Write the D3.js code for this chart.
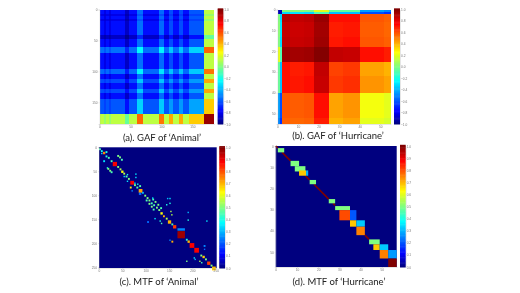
<!DOCTYPE html>
<html>
<head>
<meta charset="utf-8">
<script src="https://cdn.jsdelivr.net/npm/d3@7"></script>
<style>
  html, body { margin: 0; padding: 0; background: #fff; }
  svg { display: block; }
</style>
</head>
<body>
<div id="viz"></div>
<script>
// band edges along the series index, and the value of each band pair
var animalEdges = [0,8,10,16,18,42,48,60,71,96,104,113,118,129,135,144,169,185];
var animalGaf = [
  [-.76,-.82,-.76,-.82,-.76,-.88,-.76,-.55,-.76,-.56,-.76,-.62,-.76,-.62,-.76,-.6,.12],
  [-.82,-.85,-.82,-.85,-.82,-.92,-.82,-.6,-.82,-.62,-.82,-.66,-.82,-.66,-.82,-.65,.05],
  [-.76,-.82,-.76,-.82,-.76,-.88,-.76,-.55,-.76,-.56,-.76,-.62,-.76,-.62,-.76,-.6,.12],
  [-.82,-.85,-.82,-.85,-.82,-.92,-.82,-.6,-.82,-.62,-.82,-.66,-.82,-.66,-.82,-.65,.05],
  [-.76,-.82,-.76,-.82,-.76,-.88,-.76,-.55,-.76,-.56,-.76,-.62,-.76,-.62,-.76,-.6,.12],
  [-.88,-.92,-.88,-.92,-.88,-.97,-.88,-.7,-.88,-.72,-.88,-.76,-.88,-.76,-.88,-.76,-.05],
  [-.76,-.82,-.76,-.82,-.76,-.88,-.76,-.55,-.76,-.56,-.76,-.62,-.76,-.62,-.76,-.6,.12],
  [-.55,-.6,-.55,-.6,-.55,-.7,-.55,-.25,-.55,-.27,-.55,-.36,-.55,-.36,-.55,-.34,.55],
  [-.76,-.82,-.76,-.82,-.76,-.88,-.76,-.55,-.76,-.56,-.76,-.62,-.76,-.62,-.76,-.6,.12],
  [-.56,-.62,-.56,-.62,-.56,-.72,-.56,-.27,-.56,-.3,-.56,-.37,-.56,-.37,-.56,-.36,.52],
  [-.76,-.82,-.76,-.82,-.76,-.88,-.76,-.55,-.76,-.56,-.76,-.62,-.76,-.62,-.76,-.6,.12],
  [-.62,-.66,-.62,-.66,-.62,-.76,-.62,-.36,-.62,-.37,-.62,-.46,-.62,-.46,-.62,-.46,.42],
  [-.76,-.82,-.76,-.82,-.76,-.88,-.76,-.55,-.76,-.56,-.76,-.62,-.76,-.62,-.76,-.6,.12],
  [-.62,-.66,-.62,-.66,-.62,-.76,-.62,-.36,-.62,-.37,-.62,-.46,-.62,-.46,-.62,-.46,.42],
  [-.76,-.82,-.76,-.82,-.76,-.88,-.76,-.55,-.76,-.56,-.76,-.62,-.76,-.62,-.76,-.6,.12],
  [-.6,-.65,-.6,-.65,-.6,-.76,-.6,-.34,-.6,-.36,-.6,-.46,-.6,-.46,-.6,-.44,.35],
  [.12,.05,.12,.05,.12,-.05,.12,.55,.12,.52,.12,.42,.12,.42,.12,.35,.95]
];

var hurricaneEdges = [0,1,2,6,13,18,25,32,40,52,55];
var hurricaneGaf = [
  [-.9,-.9,0,.02,0,.2,-.05,-.05,-.45,-.5],
  [-.9,-.9,-.32,-.3,-.32,-.1,-.38,-.38,-.62,-.68],
  [0,-.32,.9,.87,.88,.95,.72,.72,.58,.56],
  [.02,-.3,.87,.85,.86,.93,.7,.71,.57,.55],
  [0,-.32,.88,.86,.87,.94,.71,.72,.58,.56],
  [.2,-.1,.95,.93,.94,.99,.87,.86,.72,.7],
  [-.05,-.38,.72,.7,.71,.87,.62,.64,.43,.4],
  [-.05,-.38,.72,.71,.72,.86,.64,.66,.46,.43],
  [-.45,-.62,.58,.57,.58,.72,.43,.46,.23,.2],
  [-.5,-.68,.56,.55,.56,.7,.4,.43,.2,.17]
];

// MTF blocks: col0, col1, row0, row1, value
var animalBlocks = [
  [168,184,169,174,.25],
  [168,184,175,190,.97]
];
// MTF cells: col, row, size, value
var animalCells = [
  [2,4,4,.45],[6,8,4,.4],[11,12,5,.75],[16,19,4,.4],[21,22,4,.45],[27,29,4,.45],
  [34,35,9,.88],[41,41,4,.5],[46,46,4,.55],[50,51,5,.62],[54,55,4,.55],[59,61,4,.45],
  [64,66,4,.5],[71,74,8,.88],[77,79,4,.5],[82,84,4,.45],[89,91,8,.72],[94,95,4,.3],
  [99,101,4,.5],[104,106,4,.5],[108,111,4,.5],[113,117,4,.45],[118,121,4,.45],
  [124,126,4,.5],[129,131,4,.5],[134,138,5,.62],[139,144,4,.7],[145,149,4,.55],
  [151,156,7,.7],[157,161,4,.45],[162,166,7,.82],[188,193,4,.4],[192,197,5,.7],
  [199,205,10,.88],[209,215,10,.88],[219,226,4,.5],[224,229,5,.68],[229,234,4,.5],
  [235,242,7,.82],[241,247,4,.5],[246,253,8,.68],
  // away from the diagonal
  [11,29,4,.35],[16,10,4,.4],[6,13,3,.35],[18,43,3,.4],[20,45,4,.5],[24,49,4,.5],[27,52,4,.45],
  [41,18,4,.5],[45,21,4,.5],[49,26,4,.45],[54,61,3,.35],[61,57,3,.4],[61,71,3,.35],
  [79,56,3,.35],[79,63,3,.35],[68,84,4,.65],[71,91,3,.25],[83,77,3,.4],[88,81,4,.45],
  [88,97,5,.22],[77,75,3,.35],[102,111,4,.45],[108,118,4,.5],[113,124,4,.5],[117,130,4,.45],
  [116,109,4,.45],[121,114,4,.5],[127,120,4,.5],[133,127,4,.45],[115,106,3,.35],
  [152,107,3,.35],[147,107,3,.3],[152,117,3,.4],[145,120,3,.4],[154,134,3,.55],
  [156,141,3,.55],[134,159,3,.45],[131,154,3,.4],[105,156,4,.22],[120,149,3,.35],
  [191,136,3,.3],[191,152,3,.4],[231,154,3,.35],[157,197,4,.7],[152,194,3,.25],
  [188,238,3,.5],[204,231,3,.35],[226,206,4,.25],[226,213,3,.22],[216,238,3,.55],
  [220,241,3,.45],[206,234,3,.3]
];

var hurricaneBlocks = [
  [1,4,1,3,.5],[7,11,7,9.5,.5],[9,14,9.5,12,.5],[11,14.3,11.5,14,.68],[14.3,15.3,11.5,14,.3],
  [16,19,16,18,.5],[25,28,25,27,.5],[28,35,28.3,30.2,.5],[30,35,30.2,35,.8],[35,38,30.2,35,.2],
  [35,38,35,38,.68],[38,42,35,38,.32],[38,42,38,42,.75],[44,49,44,46.3,.5],[46,49,46.3,49,.68],
  [49,53,46.3,49,.32],[49,53,49,53,.75],[53,57,49,53,.27],[53,57,53,57,1]
];
// runs of the hurricane diagonal that no block covers: from, to
var hurricaneDiagonal = [[0,1],[3,7],[14,16],[18,25],[27,28],[42,44]];

var animalTicks = [0,50,100,150];
var hurricaneTicks = [0,10,20,30,40,50];
var animalMtfTicks = [0,50,100,150,200,250];
var gafBarTicks = [-1,-.8,-.6,-.4,-.2,0,.2,.4,.6,.8,1];
var mtfBarTicks = [0,.1,.2,.3,.4,.5,.6,.7,.8,.9,1];

var captions = ["(a). GAF of \u2018Animal\u2019", "(b). GAF of \u2018Hurricane\u2019", "(c). MTF of \u2018Animal\u2019", "(d). MTF of \u2018Hurricane\u2019"];

var jet = d3.scaleLinear()
  .domain([0, .11, .375, .625, .875, 1])
  .range(["#00007f", "#0000ff", "#00ffff", "#ffff00", "#ff0000", "#7f0000"])
  .clamp(true);

function gafColor(v) { return jet((v + 1) / 2); }

var svg = d3.select("#viz").append("svg")
  .attr("width", 520)
  .attr("height", 293);

var defs = svg.append("defs");
defs.append("filter").attr("id", "soft")
  .attr("x", "-5%").attr("y", "-5%").attr("width", "110%").attr("height", "110%")
  .append("feGaussianBlur").attr("stdDeviation", .5);
defs.append("filter").attr("id", "softText")
  .attr("x", "-5%").attr("y", "-20%").attr("width", "110%").attr("height", "140%")
  .append("feGaussianBlur").attr("stdDeviation", .3);

function addPanel(box, max, ticks, barBox, barDomain, barTicks, color) {
  var x = d3.scaleLinear().domain([0, max]).range([box.x0, box.x1]);
  var y = d3.scaleLinear().domain([0, max]).range([box.y0, box.y1]);
  var g = svg.append("g").attr("filter", "url(#soft)");

  // colour bar
  var barY = d3.scaleLinear().domain(barDomain).range([barBox.y1, barBox.y0]);
  var steps = d3.range(0, 100).map(function(i) { return barDomain[0] + (barDomain[1] - barDomain[0]) * i / 99; });
  var stepH = (barBox.y1 - barBox.y0) / 99;
  g.selectAll(".step").data(steps).enter().append("rect")
    .attr("class", "step")
    .attr("x", barBox.x0)
    .attr("width", barBox.x1 - barBox.x0)
    .attr("y", function(d) { return barY(d) - stepH; })
    .attr("height", stepH + .5)
    .attr("fill", color);

  var axes = svg.append("g").attr("filter", "url(#softText)");
  axes.append("g").attr("transform", "translate(0," + box.y1 + ")")
    .call(d3.axisBottom(x).tickValues(ticks).tickSize(1).tickPadding(1));
  axes.append("g").attr("transform", "translate(" + box.x0 + ",0)")
    .call(d3.axisLeft(y).tickValues(ticks).tickSize(1).tickPadding(1));
  axes.append("g").attr("transform", "translate(" + barBox.x1 + ",0)")
    .call(d3.axisRight(barY).tickValues(barTicks).tickSize(0).tickPadding(1).tickFormat(d3.format(".1f")));
  axes.selectAll("text").attr("font-size", 3.2).attr("font-family", "Liberation Sans").attr("fill", "#777");
  axes.selectAll("path,line").attr("stroke", "#aaa").attr("stroke-width", .3);

  return {g: g, x: x, y: y};
}

function drawBands(panel, edges, matrix) {
  var cells = [];
  matrix.forEach(function(row, r) {
    row.forEach(function(v, c) { cells.push({r: r, c: c, v: v}); });
  });
  panel.g.selectAll(".cell").data(cells).enter().append("rect")
    .attr("class", "cell")
    .attr("x", function(d) { return panel.x(edges[d.c]); })
    .attr("y", function(d) { return panel.y(edges[d.r]); })
    .attr("width", function(d) { return panel.x(edges[d.c + 1]) - panel.x(edges[d.c]); })
    .attr("height", function(d) { return panel.y(edges[d.r + 1]) - panel.y(edges[d.r]); })
    .attr("fill", function(d) { return gafColor(d.v); })
    .attr("shape-rendering", "crispEdges");
}

function drawBlocks(panel, blocks) {
  panel.g.selectAll(".block").data(blocks).enter().append("rect")
    .attr("class", "block")
    .attr("x", function(d) { return panel.x(d[0]); })
    .attr("y", function(d) { return panel.y(d[2]); })
    .attr("width", function(d) { return panel.x(d[1]) - panel.x(d[0]); })
    .attr("height", function(d) { return panel.y(d[3]) - panel.y(d[2]); })
    .attr("fill", function(d) { return jet(d[4]); });
}

function mtfBackground(panel, max) {
  panel.g.append("rect")
    .attr("x", panel.x(0)).attr("y", panel.y(0))
    .attr("width", panel.x(max) - panel.x(0))
    .attr("height", panel.y(max) - panel.y(0))
    .attr("fill", jet(0));
}

// (a)
var panelA = addPanel({x0: 99.5, x1: 214, y0: 9.5, y1: 124}, 185, animalTicks,
  {x0: 217.7, x1: 223.3, y0: 9.5, y1: 124}, [-1, 1], gafBarTicks, gafColor);
drawBands(panelA, animalEdges, animalGaf);

// (b)
var panelB = addPanel({x0: 277.5, x1: 390.5, y0: 9.5, y1: 124}, 55, hurricaneTicks,
  {x0: 394, x1: 400, y0: 9.5, y1: 124}, [-1, 1], gafBarTicks, gafColor);
drawBands(panelB, hurricaneEdges, hurricaneGaf);

// (c)
var panelC = addPanel({x0: 99, x1: 216.7, y0: 147.3, y1: 268}, 252, animalMtfTicks,
  {x0: 219.3, x1: 225, y0: 147.3, y1: 268}, [0, 1], mtfBarTicks, jet);
mtfBackground(panelC, 252);
drawBlocks(panelC, animalBlocks);
panelC.g.selectAll(".mcell").data(animalCells).enter().append("rect")
  .attr("class", "mcell")
  .attr("x", function(d) { return panelC.x(d[0] - d[2] / 2); })
  .attr("y", function(d) { return panelC.y(d[1] - d[2] / 2); })
  .attr("width", function(d) { return panelC.x(d[2]) - panelC.x(0); })
  .attr("height", function(d) { return panelC.y(d[2]) - panelC.y(0); })
  .attr("fill", function(d) { return jet(d[3]); });

// (d)
var panelD = addPanel({x0: 275.7, x1: 396.7, y0: 146, y1: 267}, 57, hurricaneTicks,
  {x0: 400, x1: 405.7, y0: 146, y1: 267}, [0, 1], mtfBarTicks, jet);
mtfBackground(panelD, 57);
panelD.g.selectAll(".run").data(hurricaneDiagonal).enter().append("line")
  .attr("class", "run")
  .attr("x1", function(d) { return panelD.x(d[0]); })
  .attr("y1", function(d) { return panelD.y(d[0]); })
  .attr("x2", function(d) { return panelD.x(d[1]); })
  .attr("y2", function(d) { return panelD.y(d[1]); })
  .attr("stroke", jet(1))
  .attr("stroke-width", 1.6);
drawBlocks(panelD, hurricaneBlocks);

// captions
var capX = [162, 338, 159, 339];
var capY = [141, 139, 285, 285];
svg.append("g").attr("filter", "url(#softText)")
  .selectAll("text").data(captions).enter().append("text")
  .attr("x", function(d, i) { return capX[i]; })
  .attr("y", function(d, i) { return capY[i]; })
  .attr("text-anchor", "middle")
  .attr("font-family", "Lato")
  .attr("font-size", 9.5)
  .attr("fill", "#222")
  .text(function(d) { return d; });
</script>
</body>
</html>
